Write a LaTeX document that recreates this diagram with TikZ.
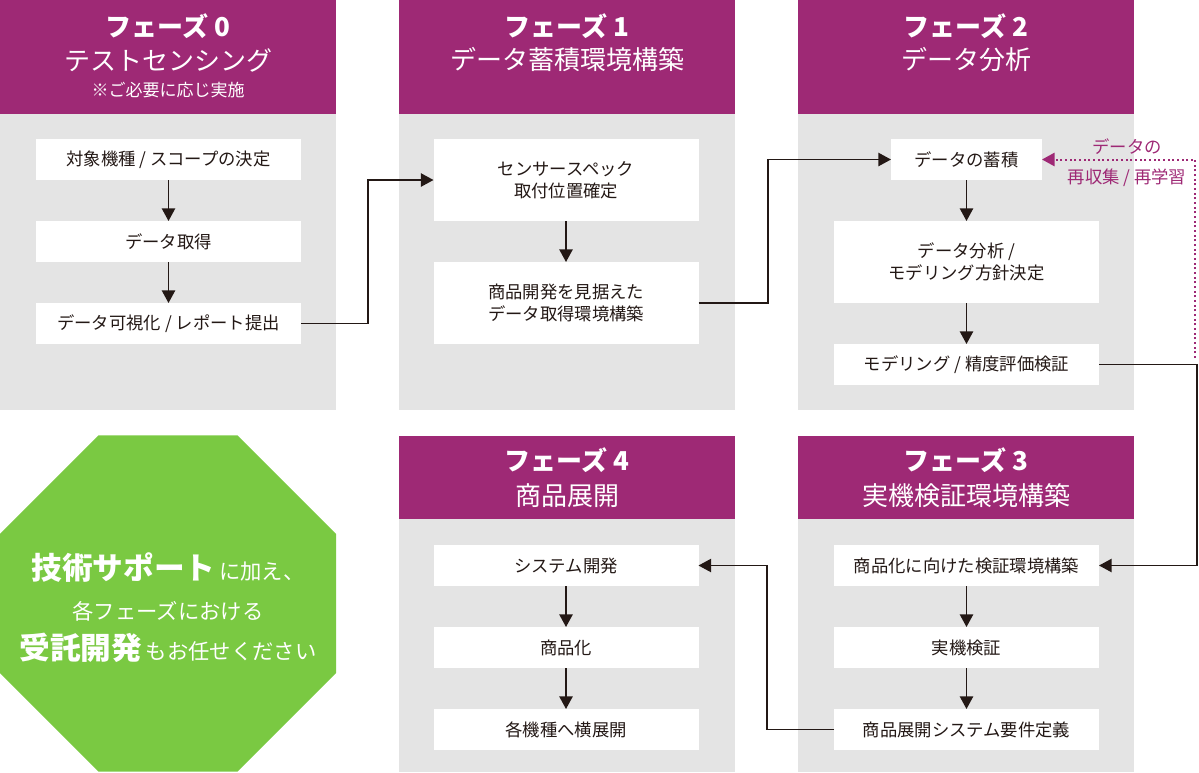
\documentclass[tikz,border=0pt]{standalone}
\usepackage{fontspec}
\setmainfont{Noto Sans CJK JP}
\usetikzlibrary{shapes.geometric,arrows.meta,positioning}

\definecolor{phasepurple}{RGB}{158,41,117}
\definecolor{panelgrey}{RGB}{228,228,228}
\definecolor{supportgreen}{RGB}{122,201,66}
\definecolor{inkblack}{RGB}{35,24,21}

\begin{document}
\begin{tikzpicture}[
    x=0.75pt, y=-0.75pt,
    node distance=30.75pt,
    >={Triangle[length=9.5pt,width=10pt]},
    line width=1.2pt,
    color=inkblack,
    header node/.style={rectangle,fill=phasepurple,minimum width=252pt,inner sep=0pt,outer sep=0pt,anchor=north west},
    body node/.style={rectangle,fill=panelgrey,minimum width=252pt,inner sep=0pt,outer sep=0pt},
    phase title/.style={text=white,inner sep=0pt,font=\fontsize{19.5pt}{24pt}\selectfont\bfseries},
    phase name/.style={text=white,inner sep=0pt,font=\fontsize{19.5pt}{24pt}\selectfont},
    phase note/.style={text=white,inner sep=0pt,font=\fontsize{12.75pt}{16pt}\selectfont},
    task node/.style={rectangle,fill=white,text=inkblack,minimum width=198.75pt,minimum height=30.75pt,inner sep=0pt,outer sep=0pt,align=center,font=\fontsize{13pt}{16.5pt}\selectfont},
    tall node/.style={task node,minimum height=61.5pt},
    feedback/.style={->,draw=phasepurple,dotted,line width=1.5pt},
    feedback label/.style={text=phasepurple,align=center,inner sep=0pt,font=\fontsize{13pt}{23pt}\selectfont},
    support node/.style={regular polygon,regular polygon sides=8,minimum size=272.8pt,fill=supportgreen,inner sep=0pt,outer sep=0pt},
    support text/.style={text=white,inner sep=0pt,align=center,font=\fontsize{16pt}{30pt}\selectfont}
]
\useasboundingbox (0,0) rectangle (1199,772);

% Phase 0
\node[header node, minimum height=85.5pt] (h0) at (0,0) {};
\node[body node, minimum height=222pt, below=0pt of h0] (b0) {};
\node[phase title] (t0) at (168,26) {フェーズ 0};
\node[phase name] (n0) at (168,60) {テストセンシング};
\node[phase note] (note0) at (168,90) {※ご必要に応じ実施};
\node[task node] (p0a) at (168.5,159.5) {対象機種 / スコープの決定};
\node[task node, below=of p0a] (p0b) {データ取得};
\node[task node, below=of p0b] (p0c) {データ可視化 / レポート提出};

% Phase 1
\node[header node, minimum height=85.5pt] (h1) at (399,0) {};
\node[body node, minimum height=222pt, below=0pt of h1] (b1) {};
\node[phase title] (t1) at (567,26) {フェーズ 1};
\node[phase name] (n1) at (567,60) {データ蓄積環境構築};
\node[tall node] (p1a) at (566,180) {センサースペック\\取付位置確定};
\node[tall node, below=of p1a] (p1b) {商品開発を見据えた\\データ取得環境構築};

% Phase 2
\node[header node, minimum height=85.5pt] (h2) at (798,0) {};
\node[body node, minimum height=222pt, below=0pt of h2] (b2) {};
\node[phase title] (t2) at (966,26) {フェーズ 2};
\node[phase name] (n2) at (966,60) {データ分析};
\node[task node, minimum width=113.25pt] (p2a) at (966.5,159.5) {データの蓄積};
\node[tall node, below=of p2a] (p2b) {データ分析 /\\モデリング方針決定};
\node[task node, below=of p2b] (p2c) {モデリング / 精度評価検証};

% Phase 3
\node[header node, minimum height=62.25pt] (h3) at (798,436) {};
\node[body node, minimum height=189.75pt, below=0pt of h3] (b3) {};
\node[phase title] (t3) at (966,460) {フェーズ 3};
\node[phase name] (n3) at (966,496) {実機検証環境構築};
\node[task node] (p3a) at (966.5,565.5) {商品化に向けた検証環境構築};
\node[task node, below=of p3a] (p3b) {実機検証};
\node[task node, below=of p3b] (p3c) {商品展開システム要件定義};

% Phase 4
\node[header node, minimum height=62.25pt] (h4) at (399,436) {};
\node[body node, minimum height=189.75pt, below=0pt of h4] (b4) {};
\node[phase title] (t4) at (567,460) {フェーズ 4};
\node[phase name] (n4) at (567,496) {商品展開};
\node[task node] (p4a) at (566,565.5) {システム開発};
\node[task node, below=of p4a] (p4b) {商品化};
\node[task node, below=of p4b] (p4c) {各機種へ横展開};

% Support
\node[support node] (support) at (168,603.5) {};
\node[support text] (supporttext) at (168,608) {{\fontsize{23pt}{30pt}\selectfont\bfseries 技術サポート}\,に加え、\\各フェーズにおける\\{\fontsize{23pt}{30pt}\selectfont\bfseries 受託開発}\,もお任せください};

% Arrows
\draw[->] (p0a) -- (p0b);
\draw[->] (p0b) -- (p0c);
\draw[->] (p1a) -- (p1b);
\draw[->] (p2a) -- (p2b);
\draw[->] (p2b) -- (p2c);
\draw[->] (p3a) -- (p3b);
\draw[->] (p3b) -- (p3c);
\draw[->] (p4a) -- (p4b);
\draw[->] (p4b) -- (p4c);

% Phase to phase
\coordinate (bend01) at (368,0);
\coordinate (bend12) at (768,0);
\coordinate (bend23) at (1197,0);
\coordinate (bend34) at (767,0);
\draw[->] (p0c.east) -| (bend01 |- p1a.west) -- (p1a.west);
\draw[->] (p1b.east) -| (bend12 |- p2a.west) -- (p2a.west);
\draw[->] (p2c.east) -| (bend23 |- p3a.east) -- (p3a.east);
\draw[->] (p3c.west) -| (bend34 |- p4a.east) -- (p4a.east);

% Re-learning loop
\coordinate (relearn) at (1195,358);
\draw[feedback] (relearn) |- (p2a.east);
\node[feedback label] (relearnlabel) at (1127,162.5) {データの\\再収集 / 再学習};

\end{tikzpicture}
\end{document}
